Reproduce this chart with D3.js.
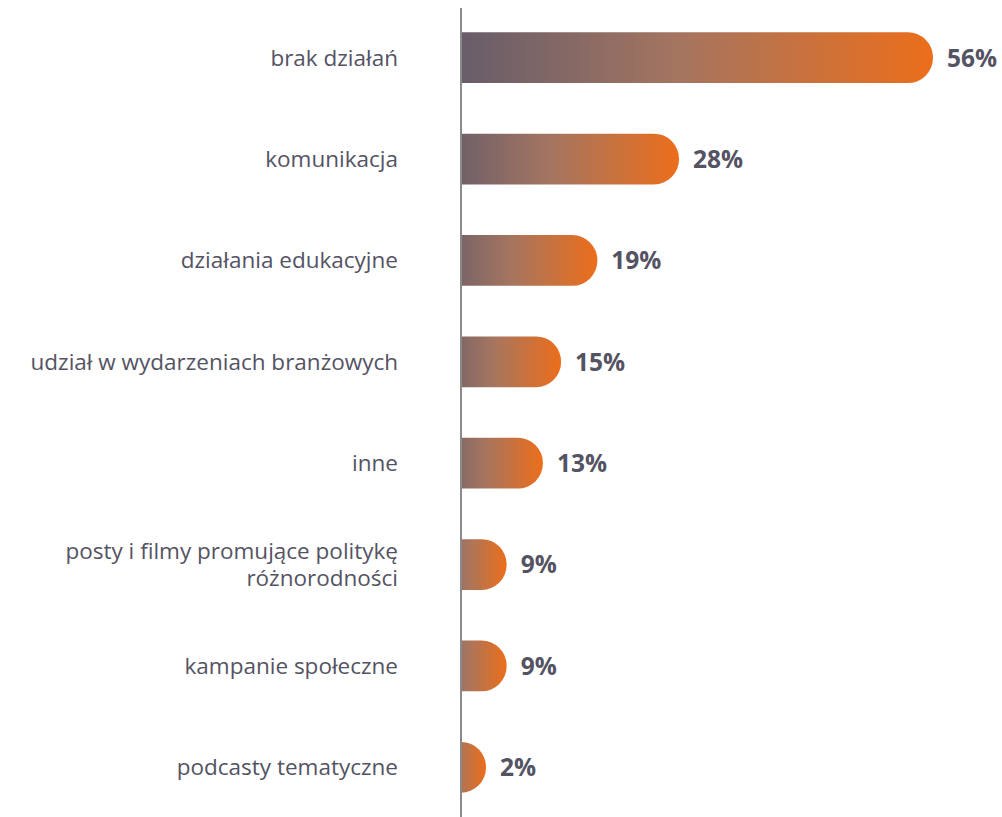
<!DOCTYPE html>
<html>
<head>
<meta charset="utf-8">
<script src="https://cdn.jsdelivr.net/npm/d3@7"></script>
<style>
  body { margin: 0; background: #fff; }
  svg { display: block; }
</style>
</head>
<body>
<div></div>
<script>
const WIDTH = 1002;
const HEIGHT = 817;
const AXIS_X = 461;
const BAR_HEIGHT = 50;
const LABEL_X = 398;

const categories = [
  ['brak działań'],
  ['komunikacja'],
  ['działania edukacyjne'],
  ['udział w wydarzeniach branżowych'],
  ['inne'],
  ['posty i filmy promujące politykę', 'różnorodności'],
  ['kampanie społeczne'],
  ['podcasty tematyczne']
];
const values = [56, 28, 19, 15, 13, 9, 9, 2];
const valueLabels = ['56%', '28%', '19%', '15%', '13%', '9%', '9%', '2%'];

const svg = d3.select('div').append('svg')
    .attr('width', WIDTH)
    .attr('height', HEIGHT);

const defs = svg.append('defs');

// bars start a bit left of the axis (hidden by the clip), like the original
const x = d3.scaleLinear()
    .domain([0, 56])
    .range([425, 933]);

const y = d3.scaleBand()
    .domain(d3.range(values.length))
    .range([7, 818])
    .paddingInner(0.5)
    .paddingOuter(0.25);

defs.append('clipPath')
    .attr('id', 'barClip')
    .append('rect')
    .attr('x', AXIS_X)
    .attr('y', 0)
    .attr('width', WIDTH - AXIS_X)
    .attr('height', HEIGHT);

const barGroup = svg.append('g').attr('clip-path', 'url(#barClip)');

values.forEach(function (v, i) {
    const x0 = x(0);
    const x1 = Math.max(x(v), AXIS_X + BAR_HEIGHT / 2);
    const grad = defs.append('linearGradient')
        .attr('id', 'grad' + i)
        .attr('gradientUnits', 'userSpaceOnUse')
        .attr('x1', x0).attr('x2', x1)
        .attr('y1', 0).attr('y2', 0);
    grad.append('stop').attr('offset', '0%').attr('stop-color', '#5d596b');
    grad.append('stop').attr('offset', '50%').attr('stop-color', '#a57560');
    grad.append('stop').attr('offset', '100%').attr('stop-color', '#ec6e1b');

    barGroup.append('rect')
        .attr('x', x0 - BAR_HEIGHT)
        .attr('y', y(i))
        .attr('width', x1 - x0 + BAR_HEIGHT)
        .attr('height', y.bandwidth())
        .attr('rx', BAR_HEIGHT / 2)
        .attr('fill', 'url(#grad' + i + ')');

    // value label
    svg.append('text')
        .attr('x', x1 + 14)
        .attr('y', y(i) + y.bandwidth() / 2)
        .attr('dy', '0.36em')
        .attr('font-family', 'Open Sans, sans-serif')
        .attr('font-weight', 'bold')
        .attr('font-size', 24.5)
        .attr('fill', '#545363')
        .text(valueLabels[i]);

    // category label
    const lines = categories[i];
    const t = svg.append('text')
        .attr('x', LABEL_X)
        .attr('y', y(i) + y.bandwidth() / 2)
        .attr('text-anchor', 'end')
        .attr('font-family', 'Open Sans, sans-serif')
        .attr('font-size', 22.5)
        .attr('fill', '#545363');
    lines.forEach(function (line, j) {
        t.append('tspan')
            .attr('x', LABEL_X)
            .attr('dy', j === 0 ? (0.35 - (lines.length - 1) * 0.6) + 'em' : '1.2em')
            .text(line);
    });
});

// vertical axis line
svg.append('line')
    .attr('x1', AXIS_X).attr('x2', AXIS_X)
    .attr('y1', 8).attr('y2', HEIGHT)
    .attr('stroke', '#8a8a8a')
    .attr('stroke-width', 2);
</script>
</body>
</html>
